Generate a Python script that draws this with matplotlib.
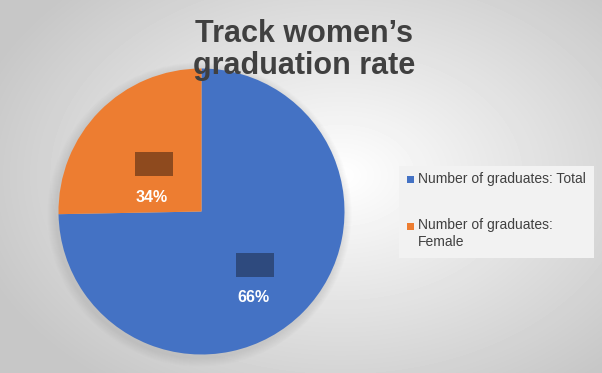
import numpy as np
import matplotlib
matplotlib.use("Agg")
import matplotlib.pyplot as plt
from matplotlib.patches import Rectangle, Circle

# data
categories = ["Number of graduates: Total", "Number of graduates:\nFemale"]
slice_share = [74.7, 25.3]          # visual share of the pie
shown_labels = ["66%", "34%"]       # percentages printed on the slices
colors = ["#4472C4", "#ED7D31"]
patch_colors = ["#2E4A7E", "#8E4A1E"]   # blurred name boxes
title = "Track women\u2019s\ngraduation rate"

W, H = 602, 373
fig = plt.figure(figsize=(W / 100, H / 100), dpi=100)

# background: soft radial gradient
bg = fig.add_axes([0, 0, 1, 1])
yy, xx = np.mgrid[0:H, 0:W]
d = np.sqrt(((xx - 340) / 380.0) ** 2 + ((yy - 175) / 260.0) ** 2)
shade = np.clip(1.0 - 0.22 * d, 0.78, 1.0)
bg.imshow(shade, cmap="gray", vmin=0, vmax=1, extent=[0, W, 0, H], origin="upper")
bg.set_xlim(0, W)
bg.set_ylim(0, H)
bg.axis("off")

ax = fig.add_axes([0, 0, 1, 1])
ax.patch.set_alpha(0)

cx, cy, r = 201.5, H - 211.5, 143

# soft shadow, offset down-left
for k in range(1, 10):
    ax.add_patch(Circle((cx - 2, cy - 3), r + k, color="#707070", alpha=0.02, lw=0, zorder=0))

ax.pie(slice_share, colors=colors, startangle=90, counterclock=False,
       center=(cx, cy), radius=r, frame=True,
       wedgeprops=dict(linewidth=0))
ax.set_xlim(0, W)
ax.set_ylim(0, H)
ax.set_aspect("equal")
ax.axis("off")

# label offsets from pie centre (dx, dy in px, y downward)
label_offsets = [(51.5, 86.5), (-49.5, -14.5)]
for lab, (dx, dy), pc in zip(shown_labels, label_offsets, patch_colors):
    tx, ty = cx + dx, cy - dy
    ax.add_patch(Rectangle((tx - 17, ty + 21), 38, 24, color=pc, lw=0, zorder=5))
    ax.text(tx, ty, lab, color="white", fontsize=11.5, fontweight="bold",
            ha="center", va="center", family=["Liberation Sans", "DejaVu Sans"], zorder=6)

fig.text(0.505, 0.866, title, ha="center", va="center", fontsize=22,
         fontweight="bold", color="#404040", linespacing=1.05,
         family=["Liberation Sans", "DejaVu Sans"])

# legend box
ax.add_patch(Rectangle((399, H - 258), 195, 92, color="#F2F2F2", lw=0, zorder=4))
legend_y = [179, 226]
for name, c, ly in zip(categories, colors, legend_y):
    ax.add_patch(Rectangle((407, H - ly - 3.5), 7, 7, color=c, lw=0, zorder=5))
    ax.text(418, H - ly + 7.5, name, ha="left", va="top",
            fontsize=10, color="#404040", linespacing=1.2, zorder=6,
            family=["Liberation Sans", "DejaVu Sans"])

fig.savefig("out.png", dpi=100)
